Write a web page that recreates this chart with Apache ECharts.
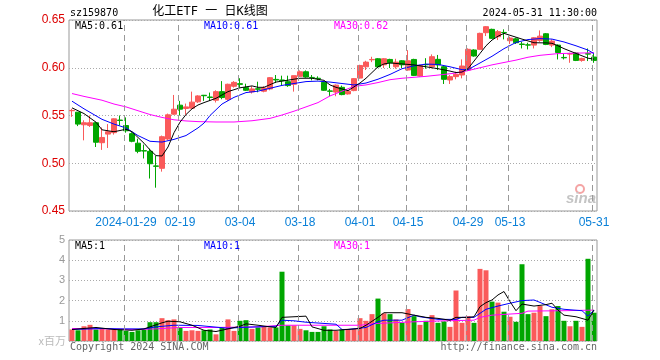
<!DOCTYPE html>
<html><head><meta charset="utf-8">
<script src="https://cdn.jsdelivr.net/npm/echarts/dist/echarts.min.js"></script>
<style>html,body{margin:0;padding:0;background:#fff}#c{width:660px;height:360px}</style>
</head><body><div id="c"></div>
<script>
const dates = ['2024-01-16','2024-01-17','2024-01-18','2024-01-19','2024-01-22','2024-01-23','2024-01-24','2024-01-25','2024-01-26','2024-01-29',
'2024-01-30','2024-01-31','2024-02-01','2024-02-02','2024-02-05','2024-02-06','2024-02-07','2024-02-08','2024-02-19','2024-02-20',
'2024-02-21','2024-02-22','2024-02-23','2024-02-26','2024-02-27','2024-02-28','2024-02-29','2024-03-01','2024-03-04','2024-03-05',
'2024-03-06','2024-03-07','2024-03-08','2024-03-11','2024-03-12','2024-03-13','2024-03-14','2024-03-15','2024-03-18','2024-03-19',
'2024-03-20','2024-03-21','2024-03-22','2024-03-25','2024-03-26','2024-03-27','2024-03-28','2024-03-29','2024-04-01','2024-04-02',
'2024-04-03','2024-04-08','2024-04-09','2024-04-10','2024-04-11','2024-04-12','2024-04-15','2024-04-16','2024-04-17','2024-04-18',
'2024-04-19','2024-04-22','2024-04-23','2024-04-24','2024-04-25','2024-04-26','2024-04-29','2024-04-30','2024-05-06','2024-05-07',
'2024-05-08','2024-05-09','2024-05-10','2024-05-13','2024-05-14','2024-05-15','2024-05-16','2024-05-17','2024-05-20','2024-05-21',
'2024-05-22','2024-05-23','2024-05-24','2024-05-27','2024-05-28','2024-05-29','2024-05-30','2024-05-31'];

const opens = [0.5550,0.5535,0.5403,0.5396,0.5424,0.5215,0.5305,0.5320,0.5452,0.5395,
0.5310,0.5210,0.5132,0.5125,0.4972,0.4947,0.5254,0.5514,0.5608,0.5573,
0.5577,0.5643,0.5712,0.5694,0.5660,0.5750,0.5670,0.5806,0.5833,0.5792,
0.5747,0.5780,0.5754,0.5778,0.5878,0.5872,0.5854,0.5827,0.5910,0.5958,
0.5899,0.5890,0.5847,0.5757,0.5745,0.5795,0.5726,0.5761,0.5892,0.6010,
0.6083,0.6094,0.6031,0.6087,0.6010,0.6073,0.5976,0.6087,0.5913,0.6035,
0.6011,0.6088,0.6011,0.5872,0.5907,0.5924,0.5976,0.6186,0.6193,0.6367,
0.6402,0.6325,0.6370,0.6283,0.6303,0.6248,0.6240,0.6237,0.6286,0.6356,
0.6237,0.6237,0.6108,0.6143,0.6154,0.6077,0.6147,0.6112];

const closes = [0.5553,0.5410,0.5424,0.5424,0.5220,0.5270,0.5330,0.5465,0.5448,0.5340,
0.5230,0.5125,0.5128,0.4995,0.4968,0.5278,0.5507,0.5566,0.5566,0.5590,
0.5640,0.5705,0.5707,0.5688,0.5750,0.5688,0.5827,0.5847,0.5826,0.5764,
0.5778,0.5775,0.5788,0.5896,0.5872,0.5865,0.5813,0.5917,0.5958,0.5903,
0.5896,0.5885,0.5764,0.5754,0.5818,0.5719,0.5754,0.5886,0.6024,0.6059,
0.6087,0.6010,0.6094,0.6052,0.6059,0.6031,0.6073,0.5920,0.6024,0.6031,
0.6116,0.6029,0.5879,0.5907,0.5931,0.6018,0.6193,0.6123,0.6360,0.6430,
0.6308,0.6378,0.6367,0.6311,0.6262,0.6244,0.6237,0.6314,0.6331,0.6244,
0.6279,0.6160,0.6104,0.6147,0.6077,0.6098,0.6143,0.6077];

const lows = [0.5486,0.5389,0.5240,0.5380,0.5170,0.5140,0.5160,0.5300,0.5395,0.5320,
0.5220,0.5105,0.5050,0.4840,0.4744,0.4912,0.5240,0.5507,0.5500,0.5507,
0.5570,0.5632,0.5653,0.5653,0.5636,0.5670,0.5653,0.5792,0.5792,0.5757,
0.5730,0.5743,0.5743,0.5764,0.5840,0.5813,0.5800,0.5750,0.5903,0.5896,
0.5868,0.5868,0.5757,0.5702,0.5702,0.5712,0.5719,0.5754,0.5886,0.5976,
0.6059,0.5997,0.5997,0.5997,0.5990,0.5997,0.5969,0.5913,0.5906,0.5990,
0.5994,0.5976,0.5830,0.5830,0.5879,0.5889,0.5969,0.6116,0.6186,0.6332,
0.6301,0.6290,0.6297,0.6249,0.6249,0.6202,0.6192,0.6202,0.6272,0.6237,
0.6216,0.6087,0.6087,0.6052,0.6070,0.6063,0.6070,0.6052];

const highs = [0.5570,0.5535,0.5450,0.5500,0.5430,0.5375,0.5410,0.5470,0.5500,0.5480,
0.5325,0.5257,0.5195,0.5153,0.5076,0.5290,0.5520,0.5715,0.5653,0.5625,
0.5750,0.5712,0.5715,0.5740,0.5764,0.5860,0.5833,0.5860,0.5890,0.5833,
0.5806,0.5854,0.5806,0.5903,0.5924,0.5917,0.5917,0.5917,0.5972,0.5972,
0.5924,0.5910,0.5854,0.5778,0.5825,0.5813,0.5767,0.5892,0.6031,0.6073,
0.6115,0.6101,0.6101,0.6094,0.6094,0.6080,0.6184,0.6094,0.6031,0.6100,
0.6140,0.6134,0.6018,0.5924,0.5959,0.6088,0.6203,0.6193,0.6367,0.6437,
0.6409,0.6395,0.6402,0.6325,0.6315,0.6272,0.6262,0.6321,0.6391,0.6363,
0.6297,0.6244,0.6147,0.6157,0.6160,0.6105,0.6202,0.6147];

// volume, millions
const volumes = [0.57,0.53,0.73,0.80,0.57,0.60,0.57,0.57,0.60,0.50,
0.45,0.53,0.57,0.93,0.93,1.13,1.03,1.07,0.67,0.50,
0.53,0.50,0.53,0.57,0.33,0.67,1.07,0.50,1.00,1.03,
0.60,0.67,0.70,0.67,0.67,3.43,0.77,0.77,0.60,0.53,
0.45,0.45,0.73,0.57,0.50,0.57,0.60,0.60,1.13,1.00,
1.33,2.10,1.37,1.33,1.07,0.90,1.58,1.23,0.80,1.00,
1.28,0.90,0.97,0.70,2.50,0.90,1.23,0.90,3.57,3.50,
1.95,1.90,1.45,1.20,0.95,3.80,1.33,1.40,1.73,1.23,
1.57,1.73,1.00,0.73,1.00,0.70,4.07,1.40];

// moving-average lines: [category index, value]
const priceMA5 = [[0,0.558],[2,0.552],[4,0.543],[5,0.535],[7,0.533],[9,0.5356],[10,0.533],[11,0.527],[12,0.521],[13,0.514],[14,0.508],[15,0.5076],[16,0.517],[17,0.532],[18,0.543],[19,0.551],[20,0.557],[21,0.561],[22,0.5635],[24,0.568],[26,0.575],[28,0.579],[30,0.581],[31,0.5795],[32,0.5795],[34,0.585],[36,0.587],[38,0.589],[40,0.589],[42,0.5868],[43,0.582],[44,0.5795],[46,0.576],[47,0.580],[48,0.584],[49,0.589],[50,0.595],[51,0.601],[52,0.604],[53,0.605],[55,0.604],[57,0.603],[59,0.601],[61,0.599],[63,0.5965],[64,0.595],[65,0.5955],[66,0.599],[67,0.607],[68,0.615],[69,0.623],[70,0.629],[71,0.633],[72,0.636],[73,0.634],[75,0.630],[77,0.6262],[79,0.626],[80,0.6256],[81,0.623],[82,0.620],[84,0.615],[86,0.610],[87,0.609]];
const priceMA10 = [[0,0.565],[2,0.557],[5,0.546],[7,0.541],[9,0.537],[11,0.529],[13,0.523],[15,0.5222],[17,0.525],[19,0.529],[21,0.537],[22,0.542],[23,0.550],[24,0.556],[25,0.562],[27,0.569],[29,0.574],[31,0.5755],[33,0.5785],[35,0.5815],[37,0.5835],[39,0.5855],[41,0.586],[43,0.585],[45,0.5835],[47,0.582],[49,0.584],[51,0.588],[53,0.593],[55,0.599],[57,0.602],[59,0.6038],[61,0.6035],[63,0.601],[65,0.598],[66,0.598],[68,0.605],[70,0.612],[72,0.620],[74,0.6265],[76,0.6295],[78,0.6305],[80,0.630],[82,0.627],[84,0.623],[86,0.6185],[87,0.6148]];
const priceMA30 = [[0,0.573],[2,0.570],[5,0.566],[7,0.562],[9,0.559],[11,0.555],[13,0.551],[15,0.548],[17,0.5455],[19,0.5443],[21,0.5436],[24,0.5432],[27,0.5432],[30,0.5445],[33,0.547],[35,0.5505],[37,0.5545],[39,0.559],[41,0.5635],[43,0.5705],[45,0.5755],[47,0.5805],[49,0.582],[51,0.5845],[53,0.5875],[55,0.589],[57,0.590],[59,0.591],[62,0.593],[64,0.5945],[66,0.597],[68,0.600],[70,0.603],[72,0.6055],[74,0.608],[76,0.611],[78,0.613],[81,0.6148],[84,0.6153],[87,0.6157]];

const volMA5 = [[0,0.57],[4,0.67],[7,0.57],[10,0.53],[12,0.60],[14,0.80],[15,0.90],[16,0.98],[18,0.95],[20,0.78],[22,0.53],[24,0.47],[26,0.60],[28,0.73],[29,0.85],[31,0.78],[33,0.70],[34,0.67],[35,1.17],[39,1.23],[40,0.70],[42,0.53],[44,0.53],[48,0.62],[49,0.78],[51,1.17],[52,1.40],[55,1.40],[57,1.28],[59,1.17],[61,1.12],[63,1.03],[64,1.17],[66,1.17],[67,1.20],[68,1.70],[69,1.90],[70,2.03],[71,2.28],[72,2.45],[73,1.95],[74,1.50],[75,1.83],[77,1.73],[79,1.80],[80,1.87],[81,1.53],[82,1.28],[84,1.20],[86,1.03],[87,1.53]];
const volMA10 = [[0,0.57],[5,0.62],[8,0.60],[12,0.60],[14,0.70],[17,0.78],[21,0.77],[26,0.63],[28,0.67],[31,0.70],[34,0.73],[35,1.03],[37,1.00],[39,0.93],[43,0.85],[44,0.83],[45,0.57],[46,0.57],[49,0.67],[51,0.95],[52,1.03],[55,1.03],[57,1.28],[58,1.20],[61,1.07],[64,1.07],[65,1.17],[67,1.17],[69,1.57],[71,1.73],[73,1.87],[75,2.00],[77,2.03],[80,1.67],[82,1.57],[85,1.50],[86,1.23],[87,1.53]];
const volMA30 = [[0,0.62],[5,0.60],[11,0.57],[14,0.60],[18,0.67],[24,0.67],[31,0.70],[35,0.78],[43,0.78],[48,0.78],[51,0.87],[57,0.95],[62,1.00],[67,1.03],[68,1.17],[70,1.28],[75,1.37],[76,1.48],[82,1.50],[87,1.53]];

const labelIdx = [9,18,28,38,48,56,66,73,87];
const priceTicks = [0.45,0.50,0.55,0.60,0.65];
const volTicks = [0,1,2,3,4,5];

const UP = '#fa5a5a', DOWN = '#00a600';
const MONO = '"DejaVu Sans Mono", monospace';
const kData = dates.map((d, i) => [opens[i], closes[i], lows[i], highs[i]]);
const volData = volumes.map((v, i) => ({ value: v, itemStyle: { color: closes[i] >= opens[i] ? UP : DOWN } }));

function maLine(data, color, xi) {
  return { type: 'line', data, xAxisIndex: xi, yAxisIndex: xi, showSymbol: false, symbol: 'none',
    connectNulls: true, silent: true, lineStyle: { color, width: 1 }, z: 3 };
}
function txt(x, y, text, fill, align, font) {
  return { type: 'text', x, y, silent: true, z: 10,
    style: { text, fill, align: align || 'left', verticalAlign: 'middle', font: font || ('10px ' + MONO) } };
}

const texts = [
  txt(70, 13, 'sz159870', '#000'),
  txt(210, 12, '化工ETF 一 日K线图', '#000', 'center', '12px "DejaVu Sans Mono", "Noto Sans CJK SC"'),
  txt(597, 13, '2024-05-31 11:30:00', '#000', 'right'),
  txt(75, 26, 'MA5:0.61', '#000'),
  txt(204, 26, 'MA10:0.61', '#0000ff'),
  txt(334, 26, 'MA30:0.62', '#ff00ff'),
  txt(75, 246, 'MA5:1', '#000'),
  txt(204, 246, 'MA10:1', '#0000ff'),
  txt(334, 246, 'MA30:1', '#ff00ff'),
  txt(66, 341, 'x百万', '#bbb', 'right', '11px "Noto Sans CJK SC"'),
  txt(70, 347, 'Copyright 2024 SINA.COM', '#666'),
  txt(597, 347, 'http://finance.sina.com.cn', '#666', 'right'),
  { type: 'circle', silent: true, z: 1, shape: { cx: 580, cy: 189, r: 4 }, style: { fill: 'none', stroke: '#f4a4a4', lineWidth: 2 } },
  { type: 'text', x: 566, y: 199, silent: true, z: 1,
    style: { text: 'sina', fill: '#c4c4c4', align: 'left', verticalAlign: 'middle', font: 'italic bold 15px "Liberation Sans", sans-serif' } }
];

const chart = echarts.init(document.getElementById('c'));
chart.setOption({
  animation: false,
  backgroundColor: '#fff',
  grid: [
    { left: 69, right: 63, top: 20, bottom: 149, show: true, borderColor: '#999', borderWidth: 1 },
    { left: 69, right: 63, top: 240, bottom: 19, show: true, borderColor: '#999', borderWidth: 1 }
  ],
  xAxis: [
    { type: 'category', data: dates, gridIndex: 0, boundaryGap: true,
      axisLine: { show: false }, axisTick: { show: false }, splitLine: { show: false },
      axisLabel: { show: true, margin: 6, color: '#0a80d8', font: '10px ' + MONO,
        interval: (i) => labelIdx.indexOf(i) >= 0,
        formatter: (v, i) => (labelIdx.indexOf(i) === 0 ? v : v.slice(5)) } },
    { type: 'category', data: dates, gridIndex: 1, boundaryGap: true,
      axisLine: { show: false }, axisTick: { show: false }, splitLine: { show: false }, axisLabel: { show: false } }
  ],
  yAxis: [
    { type: 'value', gridIndex: 0, min: priceTicks[0], max: priceTicks[priceTicks.length - 1], interval: 0.05,
      axisLine: { show: false }, axisTick: { show: false },
      splitLine: { show: true, lineStyle: { color: '#aaa', type: [1, 2], width: 1 } },
      axisLabel: { margin: 4, color: '#dd0000', font: '10px ' + MONO, formatter: v => v.toFixed(2) } },
    { type: 'value', gridIndex: 1, min: volTicks[0], max: volTicks[volTicks.length - 1], interval: 1,
      axisLine: { show: false }, axisTick: { show: false },
      splitLine: { show: true, lineStyle: { color: '#aaa', type: [1, 2], width: 1 } },
      axisLabel: { margin: 4, color: '#999', fontSize: 11, fontFamily: '"Liberation Sans", sans-serif',
        formatter: v => (v === 0 ? '' : String(v)) } }
  ],
  series: [
    { type: 'candlestick', data: kData, xAxisIndex: 0, yAxisIndex: 0, barWidth: 5, silent: true,
      itemStyle: { color: UP, color0: DOWN, borderColor: UP, borderColor0: DOWN, borderWidth: 1 } },
    maLine(priceMA30, '#ff00ff', 0),
    maLine(priceMA10, '#0000ff', 0),
    maLine(priceMA5, '#000000', 0),
    { type: 'bar', data: volData, xAxisIndex: 1, yAxisIndex: 1, barWidth: 5, silent: true },
    maLine(volMA30, '#ff00ff', 1),
    maLine(volMA10, '#0000ff', 1),
    maLine(volMA5, '#000000', 1)
  ],
  graphic: texts
});

// dashed vertical date guides placed through the axes' own scales
const guides = [];
[[0, priceTicks[0], priceTicks[priceTicks.length - 1]], [1, volTicks[0], volTicks[volTicks.length - 1]]].forEach(([g, lo, hi]) => {
  labelIdx.forEach(i => {
    const a = chart.convertToPixel({ xAxisIndex: g, yAxisIndex: g }, [i, lo]);
    const b = chart.convertToPixel({ xAxisIndex: g, yAxisIndex: g }, [i, hi]);
    if (!a || !b) return;
    const x = Math.round(a[0]) - 1.5;
    guides.push({ type: 'line', silent: true, z: 5,
      shape: { x1: x, y1: a[1], x2: x, y2: b[1] },
      style: { stroke: '#999', lineWidth: 1, lineDash: [6, 4] } });
  });
});
chart.setOption({ graphic: texts.concat(guides) });
</script>
</body></html>
